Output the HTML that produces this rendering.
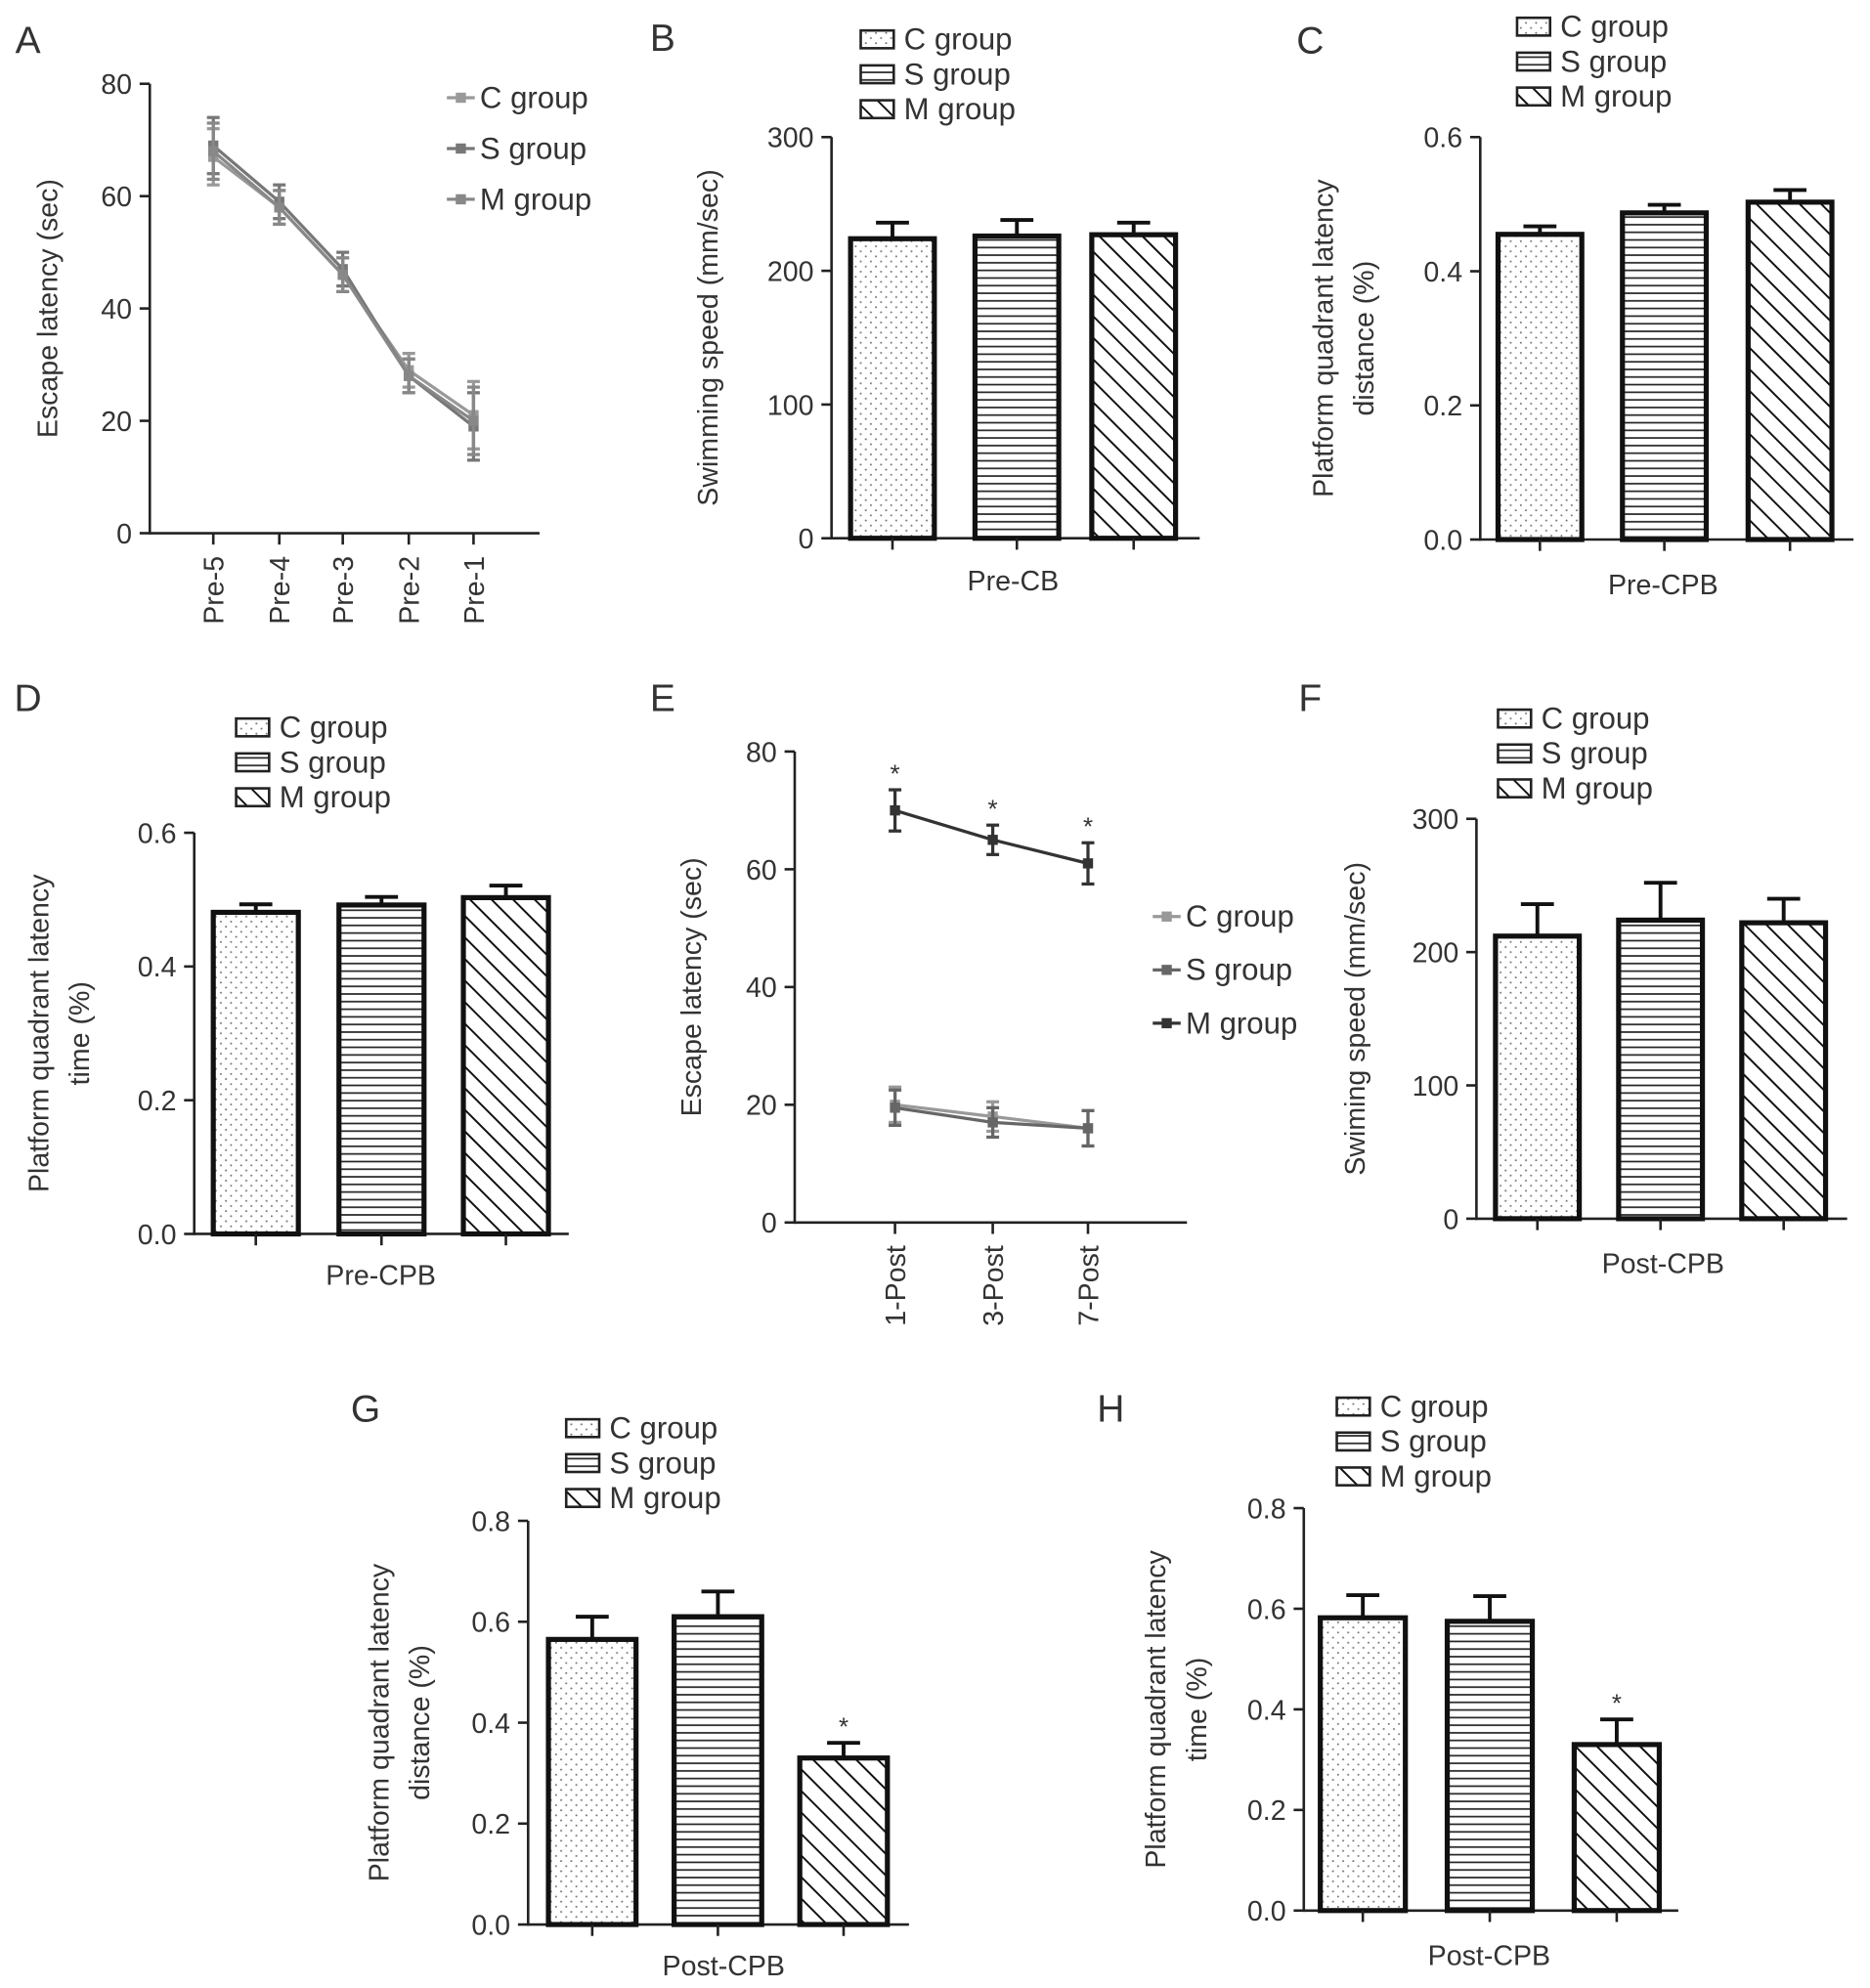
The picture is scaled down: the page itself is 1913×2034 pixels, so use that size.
<!DOCTYPE html>
<html><head><meta charset="utf-8">
<style>
html,body{margin:0;padding:0;background:#fff;}
svg{display:block;}
text{font-family:"Liberation Sans",sans-serif;fill:#333;}
</style></head>
<body>
<svg id="fig" width="1913" height="2034" viewBox="0 0 1473 1566" preserveAspectRatio="none" xmlns="http://www.w3.org/2000/svg">
<defs>
<pattern id="pDots" width="8" height="8" patternUnits="userSpaceOnUse"><rect width="8" height="8" fill="#fff"/><circle cx="2" cy="2" r="0.8" fill="#777"/><circle cx="6" cy="6" r="0.8" fill="#777"/></pattern>
<pattern id="pHoriz" width="8" height="6" patternUnits="userSpaceOnUse"><rect width="8" height="6" fill="#fff"/><line x1="0" y1="3" x2="8" y2="3" stroke="#222" stroke-width="1.3"/></pattern>
<pattern id="pDiag" width="12" height="12" patternUnits="userSpaceOnUse" patternTransform="rotate(-45)"><rect width="12" height="12" fill="#fff"/><line x1="0" y1="0" x2="0" y2="12" stroke="#111" stroke-width="3"/></pattern>
</defs>
</svg>
<script>
// ---- Data ----
const groups = ["C group","S group","M group"];
const aCats = ["Pre-5","Pre-4","Pre-3","Pre-2","Pre-1"];
const aC = [67,58,46,29,21];
const aS = [69,59,47,28,19];
const aM = [68,58,46,28,20];
const aErr = [5,3,3,3,6];
const eCats = ["1-Post","3-Post","7-Post"];
const eC = [20,18,16];
const eS = [19.5,17,16];
const eM = [70,65,61];
const eErrLow = [3,2.5,3];
const eErrM = [3.5,2.5,3.5];
const bVals = [224,226,227]; const bErr = [12,12,9];
const cVals = [0.455,0.487,0.503]; const cErr = [0.012,0.012,0.018];
const dVals = [0.481,0.492,0.503]; const dErr = [0.012,0.012,0.018];
const fVals = [212,224,222]; const fErr = [24,28,18];
const gVals = [0.565,0.61,0.33]; const gErr = [0.045,0.05,0.03];
const hVals = [0.582,0.575,0.33]; const hErr = [0.045,0.05,0.05];
const ticks300 = [0,100,200,300];
const ticks06 = ["0.0","0.2","0.4","0.6"];
const ticks08 = ["0.0","0.2","0.4","0.6","0.8"];
const ticks80 = [0,20,40,60,80];

const svg = document.getElementById('fig');
const NS = "http://www.w3.org/2000/svg";
function el(tag, attrs, parent){const e=document.createElementNS(NS,tag);for(const k in attrs)e.setAttribute(k,attrs[k]);(parent||svg).appendChild(e);return e;}
function txt(x,y,s,size,anchor,parent,rot){const t=el('text',{x:x,y:y,'font-size':size,'text-anchor':anchor||'start'},parent);if(rot)t.setAttribute('transform',`rotate(${rot} ${x} ${y})`);t.textContent=s;return t;}

function panelLetter(x,y,s){const t=txt(x,y,s,30,'middle');}

function yAxis(g,x,y0,y1,labels,max){
  el('line',{x1:x,y1:y0+1,x2:x,y2:y1,stroke:'#222','stroke-width':2},g);
  labels.forEach((l,i)=>{const v=parseFloat(l);const y=y0-(v/max)*(y0-y1);
    el('line',{x1:x-8,y1:y,x2:x,y2:y,stroke:'#222','stroke-width':2},g);
    const t=txt(x-14,y+8,String(l),22,'end',g);});
}
function yTitle(g,x,yc,lines){lines.forEach((s,i)=>{const t=txt(x+i*32,yc,s,22,'middle',g,-90);});}

function barChart(o){
  const g=el('g',{});
  const {ax,y0,y1,max}=o; const sy=v=>y0-(v/max)*(y0-y1);
  yAxis(g,ax,y0,y1,o.ticks,max);
  const fills=['url(#pDots)','url(#pHoriz)','url(#pDiag)'];
  el('line',{x1:ax,y1:y0,x2:o.xend,y2:y0,stroke:'#222','stroke-width':2},g);
  o.vals.forEach((v,i)=>{const x=o.bx[i],w=o.bw;const top=sy(v);
    const eb=el('line',{x1:x+w/2,y1:top,x2:x+w/2,y2:sy(v+o.err[i]),stroke:'#111','stroke-width':3},g);
    
    el('line',{x1:x+w/2-13,y1:sy(v+o.err[i]),x2:x+w/2+13,y2:sy(v+o.err[i]),stroke:'#111','stroke-width':3},g);
    const r=el('rect',{x:x,y:top,width:w,height:y0-top,fill:fills[i],stroke:'#111','stroke-width':4},g);
    
    el('line',{x1:x+w/2,y1:y0,x2:x+w/2,y2:y0+9,stroke:'#222','stroke-width':2},g);
    if(o.star&&o.star[i]){const s=txt(x+w/2,sy(v+o.err[i])-6,'*',20,'middle',g);}
  });
  const xl=txt(o.xlx,o.xly,o.xlabel,22,'middle',g);
  yTitle(g,o.tx,(y0+y1)/2,o.title);
  groups.forEach((gr,i)=>{const ly=o.ly+i*27.5;const lg=el('g',{},g);
    
    el('rect',{x:o.lx,y:ly-13,width:26,height:14,fill:fills[i],stroke:'#222','stroke-width':2},lg);
    txt(o.lx+34,ly+2,gr,24,'start',lg);});
}

function lineChart(o){
  const g=el('g',{});
  const {ax,y0,y1,max}=o; const sy=v=>y0-(v/max)*(y0-y1);
  yAxis(g,ax,y0,y1,ticks80,max);
  el('line',{x1:ax,y1:y0,x2:o.xend,y2:y0,stroke:'#222','stroke-width':2},g);
  o.cats.forEach((c,i)=>{const x=o.cx[i];el('line',{x1:x,y1:y0,x2:x,y2:y0+9,stroke:'#222','stroke-width':2},g);
    const t=txt(x+8,y0+18,c,22,'end',g,-90);});
  o.series.forEach(s=>{const sg=el('g',{},g);
    const pts=s.vals.map((v,i)=>`${o.cx[i]},${sy(v)}`).join(' ');
    el('polyline',{points:pts,fill:'none',stroke:s.color,'stroke-width':2.5},sg);
    s.vals.forEach((v,i)=>{const x=o.cx[i];const e=s.err[i];
      el('line',{x1:x,y1:sy(v-e),x2:x,y2:sy(v+e),stroke:s.color,'stroke-width':2.5},sg);
      el('line',{x1:x-5,y1:sy(v-e),x2:x+5,y2:sy(v-e),stroke:s.color,'stroke-width':2.5},sg);
      el('line',{x1:x-5,y1:sy(v+e),x2:x+5,y2:sy(v+e),stroke:s.color,'stroke-width':2.5},sg);
      const p=el('rect',{x:x-4,y:sy(v)-4,width:8,height:8,fill:s.color},sg);
      if(s.star){const st=txt(x,sy(v+e)-6,'*',20,'middle',sg);}
    });});
  yTitle(g,o.tx,(y0+y1)/2,["Escape latency (sec)"]);
  o.series.forEach((s,i)=>{const ly=o.ly+i*o.lsp;const lg=el('g',{},g);
    el('line',{x1:o.lx,y1:ly-8,x2:o.lx+22,y2:ly-8,stroke:s.color,'stroke-width':2.5},lg);
    el('rect',{x:o.lx+7,y:ly-12,width:8,height:8,fill:s.color},lg);
    txt(o.lx+26,ly,groups[i],24,'start',lg);});
}

panelLetter(22,42,'A');panelLetter(522,40,'B');panelLetter(1032,42,'C');panelLetter(22,560,'D');
panelLetter(522,560,'E');panelLetter(1032,560,'F');panelLetter(288,1120,'G');panelLetter(875,1120,'H');

lineChart({name:'chart-a',ax:118,y0:420,y1:66,max:80,xend:425,cats:aCats,cx:[168,220,270,322,373],tx:45,lx:352,ly:85,lsp:40,
  series:[{key:'c',vals:aC,err:aErr,color:'#999'},{key:'s',vals:aS,err:aErr,color:'#777'},{key:'m',vals:aM,err:aErr,color:'#888'}]});
lineChart({name:'chart-e',ax:626,y0:963,y1:592,max:80,xend:935,cats:eCats,cx:[705,782,857],tx:552,lx:908,ly:730,lsp:42,
  series:[{key:'c',vals:eC,err:eErrLow,color:'#999'},{key:'s',vals:eS,err:eErrLow,color:'#666'},{key:'m',vals:eM,err:eErrM,color:'#333',star:true}]});

barChart({name:'chart-b',ax:655,y0:424,y1:108,max:300,ticks:ticks300,xend:945,bx:[670,768,860],bw:66,vals:bVals,err:bErr,xlabel:'Pre-CB',xlx:798,xly:465,title:['Swimming speed (mm/sec)'],tx:565,lx:678,ly:37});
barChart({name:'chart-c',ax:1166,y0:425,y1:108,max:0.6,ticks:ticks06,xend:1460,bx:[1180,1278,1377],bw:66,vals:cVals,err:cErr,xlabel:'Pre-CPB',xlx:1310,xly:468,title:['Platform quadrant latency','distance (%)'],tx:1050,lx:1195,ly:27});
barChart({name:'chart-d',ax:153,y0:972,y1:656,max:0.6,ticks:ticks06,xend:448,bx:[168,267,365],bw:67,vals:dVals,err:dErr,xlabel:'Pre-CPB',xlx:300,xly:1012,title:['Platform quadrant latency','time (%)'],tx:38,lx:186,ly:579});
barChart({name:'chart-f',ax:1163,y0:960,y1:645,max:300,ticks:ticks300,xend:1455,bx:[1178,1275,1372],bw:66,vals:fVals,err:fErr,xlabel:'Post-CPB',xlx:1310,xly:1003,title:['Swiming speed (mm/sec)'],tx:1075,lx:1180,ly:572});
barChart({name:'chart-g',ax:416,y0:1516,y1:1198,max:0.8,ticks:ticks08,xend:716,bx:[432,531,630],bw:69,vals:gVals,err:gErr,star:[0,0,1],xlabel:'Post-CPB',xlx:570,xly:1556,title:['Platform quadrant latency','distance (%)'],tx:306,lx:446,ly:1131});
barChart({name:'chart-h',ax:1027,y0:1505,y1:1188,max:0.8,ticks:ticks08,xend:1322,bx:[1040,1140,1240],bw:67,vals:hVals,err:hErr,star:[0,0,1],xlabel:'Post-CPB',xlx:1173,xly:1548,title:['Platform quadrant latency','time (%)'],tx:918,lx:1053,ly:1114});
</script>
</body></html>
